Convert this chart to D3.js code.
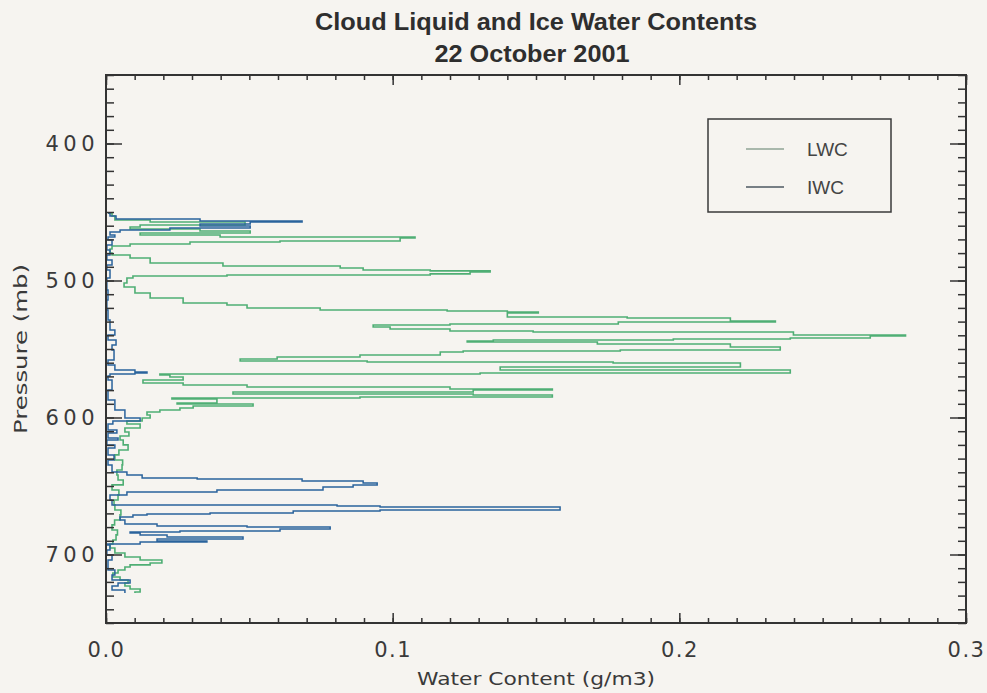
<!DOCTYPE html>
<html>
<head>
<meta charset="utf-8">
<script src="https://cdn.jsdelivr.net/npm/d3@7"></script>
<style>
    body { margin: 0; background: #f6f4f0; }
    svg { display: block; }
</style>
</head>
<body>
<svg width="987" height="693"></svg>
<script>
// LWC profile, in flight order (pressure in mb, water content in g/m3)
const lwcPressure = [450.7, 452.9, 455.8, 457.3, 457.3, 459.5, 460.9, 462.4, 463.9, 465.3, 466.8, 468.2, 469.0, 471.2, 471.9, 473.4, 474.8, 477.0, 479.9, 481.4,
    483.6, 487.2, 489.4, 490.9, 492.3, 493.0, 493.8, 495.2, 496.0, 496.7, 498.2, 501.8, 504.7, 509.1, 512.8, 516.4, 517.9, 520.1, 521.5, 522.3,
    523.0, 523.7, 525.2, 526.6, 527.4, 529.6, 530.3, 531.7, 532.5, 533.9, 535.4, 536.9, 537.6, 539.8, 540.5, 542.0, 542.7, 543.4, 544.2, 544.9,
    546.3, 548.5, 550.7, 551.5, 552.2, 554.4, 555.8, 557.3, 558.8, 559.5, 560.2, 561.7, 563.1, 565.3, 567.5, 568.2, 569.0, 570.4, 572.6, 574.8,
    576.3, 577.7, 579.2, 579.9, 581.4, 582.8, 583.6, 585.0, 585.8, 586.5, 589.4, 590.1, 591.6, 593.1, 594.5, 596.0, 598.2, 600.4, 602.5, 604.7,
    607.7, 610.6, 613.5, 616.4, 620.0, 623.7, 627.3, 631.0, 634.6, 638.3, 642.0, 645.6, 649.2, 652.9, 656.5, 660.2, 663.8, 667.5, 671.1, 674.8,
    678.4, 682.1, 685.7, 689.4, 692.3, 695.3, 698.9, 701.8, 704.0, 706.2, 707.6, 709.1, 711.3, 713.5, 716.4, 718.6, 720.8, 723.0, 725.2, 727.4, 728.1]
const lwcValue = [0.0007, 0.0021, 0.0031, 0.0154, 0.0468, 0.0485, 0.0119, 0.0084, 0.0328, 0.0503, 0.0119, 0.0398, 0.1078, 0.1026, 0.0607, 0.0293, 0.0084, 0.0021, 0.0014, 0.0021,
    0.0084, 0.0154, 0.0408, 0.0817, 0.0897, 0.1131, 0.1340, 0.1270, 0.1131, 0.0422, 0.0094, 0.0073, 0.0063, 0.0101, 0.0154, 0.0269, 0.0422, 0.0492, 0.0747, 0.1190,
    0.1400, 0.1508, 0.1400, 0.1400, 0.1818, 0.2178, 0.2335, 0.1787, 0.1200, 0.0932, 0.0991, 0.1200, 0.1490, 0.2398, 0.2789, 0.2666, 0.2387, 0.1979, 0.1351, 0.1260,
    0.1714, 0.2178, 0.2352, 0.1794, 0.1246, 0.1166, 0.0886, 0.0597, 0.0468, 0.0911, 0.1769, 0.2213, 0.2213, 0.1375, 0.2387, 0.1305, 0.0188, 0.0223, 0.0269, 0.0129,
    0.0269, 0.0492, 0.1200, 0.1557, 0.1281, 0.0443, 0.1281, 0.1557, 0.0886, 0.0230, 0.0387, 0.0248, 0.0513, 0.0304, 0.0258, 0.0188, 0.0143, 0.0154, 0.0126, 0.0073,
    0.0119, 0.0066, 0.0080, 0.0049, 0.0060, 0.0077, 0.0045, 0.0031, 0.0058, 0.0056, 0.0038, 0.0042, 0.0060, 0.0021, 0.0045, 0.0042, 0.0028, 0.0031, 0.0052, 0.0049,
    0.0030, 0.0021, 0.0040, 0.0035, 0.0024, 0.0014, 0.0031, 0.0066, 0.0119, 0.0195, 0.0154, 0.0084, 0.0066, 0.0042, 0.0024, 0.0049, 0.0077, 0.0066, 0.0084, 0.0119, 0.0101]

// IWC profile
const iwcPressure = [450.7, 452.9, 455.1, 456.6, 457.3, 458.8, 460.2, 461.7, 463.1, 464.6, 466.8, 468.2, 470.4, 474.1, 477.7, 481.4, 485.0, 488.7, 492.3, 498.2,
    506.9, 514.2, 521.5, 528.8, 536.1, 539.8, 543.4, 547.1, 550.7, 558.0, 561.7, 565.3, 566.8, 567.5, 568.2, 569.7, 572.6, 579.9, 587.2, 594.5,
    600.4, 602.5, 604.7, 609.1, 611.3, 615.0, 616.4, 620.1, 622.3, 627.4, 631.0, 634.7, 639.8, 642.0, 644.2, 644.9, 646.4, 647.8, 649.3, 650.7,
    652.9, 654.4, 656.6, 660.2, 663.9, 664.6, 665.3, 666.1, 667.5, 668.2, 669.7, 670.4, 671.2, 672.6, 674.8, 677.7, 679.2, 679.9, 681.4, 682.8,
    683.6, 684.3, 685.8, 687.2, 688.7, 690.2, 690.9, 692.3, 693.1, 696.7, 700.4, 704.0, 711.3, 715.0, 718.6, 720.8, 723.0, 725.9, 728.1]
const iwcValue = [0.0007, 0.0014, 0.0035, 0.0328, 0.0684, 0.0503, 0.0328, 0.0503, 0.0223, 0.0049, 0.0014, 0.0031, 0.0007, 0.0021, 0.0003, 0.0014, 0.0003, 0.0021, 0.0003, 0.0014,
    0.0003, 0.0007, 0.0003, 0.0007, 0.0014, 0.0031, 0.0007, 0.0035, 0.0021, 0.0028, 0.0007, 0.0031, 0.0101, 0.0143, 0.0101, 0.0014, 0.0007, 0.0021, 0.0007, 0.0031,
    0.0066, 0.0119, 0.0024, 0.0007, 0.0038, 0.0007, 0.0042, 0.0003, 0.0031, 0.0007, 0.0028, 0.0007, 0.0021, 0.0073, 0.0126, 0.0318, 0.0684, 0.0897, 0.0946, 0.0862,
    0.0757, 0.0387, 0.0073, 0.0014, 0.0021, 0.0806, 0.0956, 0.1584, 0.1584, 0.0956, 0.0653, 0.0363, 0.0143, 0.0094, 0.0049, 0.0066, 0.0178, 0.0492, 0.0782, 0.0607,
    0.0258, 0.0084, 0.0119, 0.0213, 0.0478, 0.0178, 0.0352, 0.0119, 0.0003, 0.0014, 0.0003, 0.0021, 0.0007, 0.0031, 0.0021, 0.0084, 0.0042, 0.0021, 0.0066]

const pressureTicks = [400, 500, 600, 700]
const contentTicks = [0.0, 0.1, 0.2, 0.3]
const seriesNames = ["LWC", "IWC"]

const svg = d3.select("svg")

const plotLeft = 106, plotRight = 966, plotTop = 75, plotBottom = 623
const axisColor = "#333"
const lwcColor = "#4fae74"
const iwcColor = "#2a639c"

const x = d3.scaleLinear().domain([0, 0.3]).range([plotLeft, plotRight])
const y = d3.scaleLinear().domain([350, 750]).range([plotTop, plotBottom])

// title
svg.append("text")
    .attr("x", 536).attr("y", 30)
    .attr("text-anchor", "middle")
    .attr("textLength", 442).attr("lengthAdjust", "spacingAndGlyphs")
    .style("font-family", "Liberation Sans, Arial, sans-serif")
    .style("font-weight", "bold").style("font-size", "23px")
    .attr("fill", "#2e2e2e")
    .text("Cloud Liquid and Ice Water Contents")

svg.append("text")
    .attr("x", 532).attr("y", 62)
    .attr("text-anchor", "middle")
    .attr("textLength", 195).attr("lengthAdjust", "spacingAndGlyphs")
    .style("font-family", "Liberation Sans, Arial, sans-serif")
    .style("font-weight", "bold").style("font-size", "23px")
    .attr("fill", "#2e2e2e")
    .text("22 October 2001")

// data lines, drawn as steps: the probe holds each value until the next level
const line = d3.line()
    .x(d => x(d[1]))
    .y(d => y(d[0]))
    .curve(d3.curveStepAfter)

const plot = svg.append("g")

plot.append("path")
    .datum(d3.zip(lwcPressure, lwcValue))
    .attr("fill", "none")
    .attr("stroke", lwcColor)
    .attr("stroke-width", 1.6)
    .attr("d", line)

plot.append("path")
    .datum(d3.zip(iwcPressure, iwcValue))
    .attr("fill", "none")
    .attr("stroke", iwcColor)
    .attr("stroke-width", 1.5)
    .attr("d", line)

// axes
const minorX = d3.range(0, 0.3001, 0.01)
const minorY = d3.range(350, 750.1, 10)

function styleAxis(g) {
    g.select(".domain").remove()
    g.selectAll(".tick line").attr("stroke", axisColor).attr("stroke-width", 1.5)
    g.selectAll(".tick text")
        .attr("fill", "#3a3a3a")
        .style("font-family", "DejaVu Sans, sans-serif")
        .style("font-size", "21px")
}

svg.append("g")
    .attr("transform", `translate(${plotLeft},0)`)
    .call(d3.axisLeft(y).tickValues(minorY).tickSize(-8).tickFormat(""))
    .call(styleAxis)

svg.append("g")
    .attr("transform", `translate(${plotLeft},0)`)
    .call(d3.axisLeft(y).tickValues(pressureTicks).tickSize(-16).tickPadding(7).tickFormat(d3.format("d")))
    .call(styleAxis)
    .call(g => g.selectAll(".tick text").style("letter-spacing", "4.5px"))

svg.append("g")
    .attr("transform", `translate(${plotRight},0)`)
    .call(d3.axisRight(y).tickValues(minorY).tickSize(-8).tickFormat(""))
    .call(styleAxis)

svg.append("g")
    .attr("transform", `translate(${plotRight},0)`)
    .call(d3.axisRight(y).tickValues(pressureTicks).tickSize(-16).tickFormat(""))
    .call(styleAxis)

svg.append("g")
    .attr("transform", `translate(0,${plotBottom})`)
    .call(d3.axisBottom(x).tickValues(minorX).tickSize(-5).tickFormat(""))
    .call(styleAxis)

svg.append("g")
    .attr("transform", `translate(0,${plotBottom})`)
    .call(d3.axisBottom(x).tickValues(contentTicks).tickSize(-10).tickPadding(19).tickFormat(d3.format(".1f")))
    .call(styleAxis)
    .call(g => g.selectAll(".tick text").style("letter-spacing", "1.5px"))

svg.append("g")
    .attr("transform", `translate(0,${plotTop})`)
    .call(d3.axisTop(x).tickValues(minorX).tickSize(-5).tickFormat(""))
    .call(styleAxis)

svg.append("g")
    .attr("transform", `translate(0,${plotTop})`)
    .call(d3.axisTop(x).tickValues(contentTicks).tickSize(-10).tickFormat(""))
    .call(styleAxis)

// frame
svg.append("rect")
    .attr("x", plotLeft).attr("y", plotTop)
    .attr("width", plotRight - plotLeft).attr("height", plotBottom - plotTop)
    .attr("fill", "none")
    .attr("stroke", axisColor)
    .attr("stroke-width", 2)

// axis titles
svg.append("text")
    .attr("x", 536).attr("y", 685)
    .attr("text-anchor", "middle")
    .attr("textLength", 238).attr("lengthAdjust", "spacingAndGlyphs")
    .style("font-family", "DejaVu Sans, sans-serif")
    .style("font-size", "18px")
    .attr("fill", "#3a3a3a")
    .text("Water Content (g/m3)")

svg.append("text")
    .attr("transform", `translate(27,${(plotTop + plotBottom) / 2}) rotate(-90)`)
    .attr("text-anchor", "middle")
    .attr("textLength", 170).attr("lengthAdjust", "spacingAndGlyphs")
    .style("font-family", "DejaVu Sans, sans-serif")
    .style("font-size", "18px")
    .attr("fill", "#3a3a3a")
    .text("Pressure (mb)")

// legend
const legend = svg.append("g").attr("transform", "translate(708,119)")

legend.append("rect")
    .attr("width", 183).attr("height", 93)
    .attr("fill", "none")
    .attr("stroke", "#3a3a3a")
    .attr("stroke-width", 1.5)

const legendColors = ["#8fa596", "#4d5862"]

const item = legend.selectAll("g.item")
    .data(seriesNames)
    .enter()
    .append("g")
    .attr("class", "item")
    .attr("transform", (d, i) => `translate(0,${30 + i * 38})`)

item.append("line")
    .attr("x1", 38).attr("x2", 76)
    .attr("stroke", (d, i) => legendColors[i])
    .attr("stroke-width", 1.5)

item.append("text")
    .attr("x", 99).attr("dy", "0.35em")
    .style("font-family", "Liberation Sans, Arial, sans-serif")
    .style("font-size", "19px")
    .attr("fill", "#444")
    .text(d => d)
</script>
</body>
</html>
